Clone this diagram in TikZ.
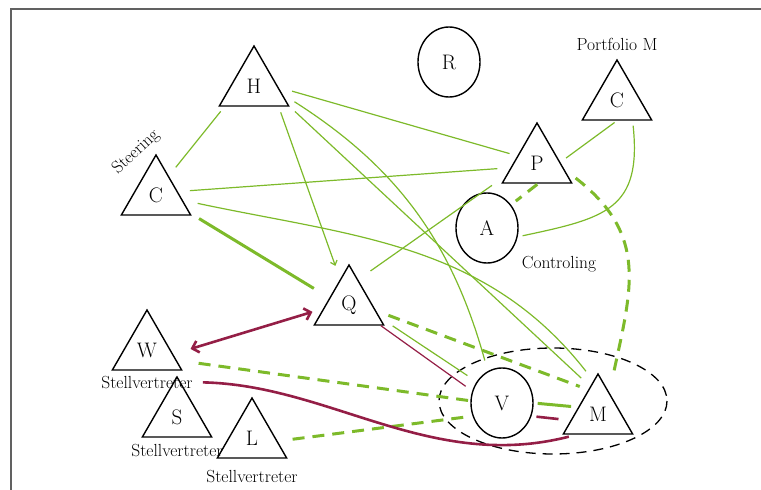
\documentclass[tikz,border=0pt]{standalone}
\usepackage{tikz}
\usetikzlibrary{shapes.geometric, arrows.meta, positioning}
\definecolor{verde}{RGB}{125,186,42}
\definecolor{bordeaux}{RGB}{148,30,70}

\begin{document}
\begin{tikzpicture}[x = 1pt, y = -1pt,
    tri/.style = {draw, line width = 1.4pt, regular polygon, regular polygon sides = 3, minimum size = 80pt, inner sep = 0pt, font = \fontsize{21}{23}\selectfont},
    circ/.style = {draw, line width = 1.4pt, ellipse, minimum width = 62pt, minimum height = 70pt, inner sep = 0pt, font = \fontsize{21}{23}\selectfont},
    lab/.style = {inner sep = 0pt, font = \fontsize{17.5}{19}\selectfont},
    bond/.style = {verde, line width = 1.2pt},
    bondThick/.style = {verde, line width = 3pt},
    bondDash/.style = {verde, line width = 3pt, dash pattern = on 12pt off 8pt},
    tie/.style = {bordeaux, line width = 2.6pt},
    tieThin/.style = {bordeaux, line width = 1.2pt}]
        % Parametri
        \useasboundingbox (0,0) rectangle (761,490);
        \draw[black!62, line width = 1.6pt] (11,490) -- (11,9) -- (761,9);
        % Triangoli
        \node[tri] (TriH) at (254,86) {H};
        \node[tri] (TriCs) at (156,195) {C};
        \node[tri] (TriCp) at (617,100) {C};
        \node[tri] (TriP) at (537,163) {P};
        \node[tri] (TriQ) at (349,305) {Q};
        \node[tri] (TriW) at (147,350) {W};
        \node[tri] (TriS) at (177,417) {S};
        \node[tri] (TriL) at (252,438) {L};
        \node[tri] (TriM) at (598,414) {M};
        % Cerchi
        \node[circ] (CircR) at (449,62) {R};
        \node[circ] (CircA) at (487,228) {A};
        \node[circ] (CircV) at (502,403) {V};
        % Etichette
        \node[lab, rotate = 43] (LabSteering) at (136,152) {Steering};
        \node[lab, above = 8pt of TriCp.north] (LabPortfolio) {Portfolio M};
        \node[lab] (LabControling) at (559,264) {Controling};
        \node[lab, below = 5pt of TriW] (LabW) {Stellvertreter};
        \node[lab, below = 6pt of TriS] (LabS) {Stellvertreter};
        \node[lab, below = 11pt of TriL] (LabL) {Stellvertreter};
        % Gruppo V--M
        \coordinate (GruppoVM) at (553,401);
        \draw[line width = 1.3pt, dash pattern = on 10pt off 7pt] (GruppoVM) ellipse [x radius = 114, y radius = 53];
        % Legami sottili
        \draw[bond, shorten <= 6pt, shorten >= 11pt] (TriH.215) -- (TriCs.56);
        \draw[bond, -{Straight Barb[length = 4pt, width = 7pt]}, shorten <= 6pt, shorten >= 14pt] (TriH.-40) -- (TriQ.109);
        \draw[bond, shorten <= 14pt, shorten >= 8pt] (TriH.-3) -- (TriP.160);
        \draw[bond, shorten <= 14pt, shorten >= 11pt] (TriH.-16) to[bend left = 21] (CircV.114);
        \draw[bond, shorten <= 7pt, shorten >= 12pt] (TriH.-30) -- (TriM.106);
        \draw[bond, shorten <= 12pt, shorten >= 13pt] (TriCs.9) -- (TriP.190);
        \draw[bond, shorten <= 15pt, shorten >= 12pt] (TriCs.-11) to[out = -12, in = 128] (TriM.98);
        \draw[bond, shorten <= 15pt, shorten >= 17pt] (TriQ.70) -- (TriP.202);
        \draw[bond, shorten <= 15pt, shorten >= 11pt] (TriQ.-22) -- (CircV.140);
        \draw[bond, shorten <= 3pt, shorten >= 7pt] (TriCp.-90) -- (TriP.2);
        \draw[bond, shorten <= 5pt, shorten >= 5pt] (TriCp.-53) to[out = -84, in = 12, looseness = 1.4] (CircA.-16);
        % Legami forti
        \draw[bondThick, shorten <= 10pt, shorten >= 18pt] (TriCs.-28) -- (TriQ.160);
        \draw[bondThick, shorten <= 4pt, shorten >= 7pt] (CircV.0) -- (TriM.161);
        % Legami tratteggiati
        \draw[bondDash, shorten <= 13pt, shorten >= 9pt] (TriQ.-12) -- (TriM.112);
        \draw[bondDash, shorten <= 22pt, shorten >= 1pt] (TriW.-19) -- (CircV.176);
        \draw[bondDash, shorten <= 15pt, shorten >= 6pt] (TriL.-7) -- (CircV.204);
        \draw[bondDash, shorten <= 1pt, shorten >= 6pt] (TriP.-87) -- (CircA.44);
        \draw[bondDash, shorten <= 14pt, shorten >= 18pt] (TriP.-13) to[out = -38, in = 78, looseness = 1.2] (TriM.62);
        % Legami bordeaux
        \draw[tie, {Straight Barb[length = 6pt, width = 12pt]}-{Straight Barb[length = 6pt, width = 12pt]}, shorten <= 18pt, shorten >= 11pt] (TriW.-9) -- (TriQ.188);
        \draw[tieThin, shorten >= 8pt] (TriQ.-33) -- (CircV.158);
        \draw[tie, shorten <= 5pt, shorten >= 12pt] (CircV.-24) -- (TriM.193);
        \draw[tie, shorten <= 10pt, shorten >= 8pt] (LabW.east) .. controls (330,385) and (430,472) .. (TriM.224);
    \end{tikzpicture}
\end{document}
